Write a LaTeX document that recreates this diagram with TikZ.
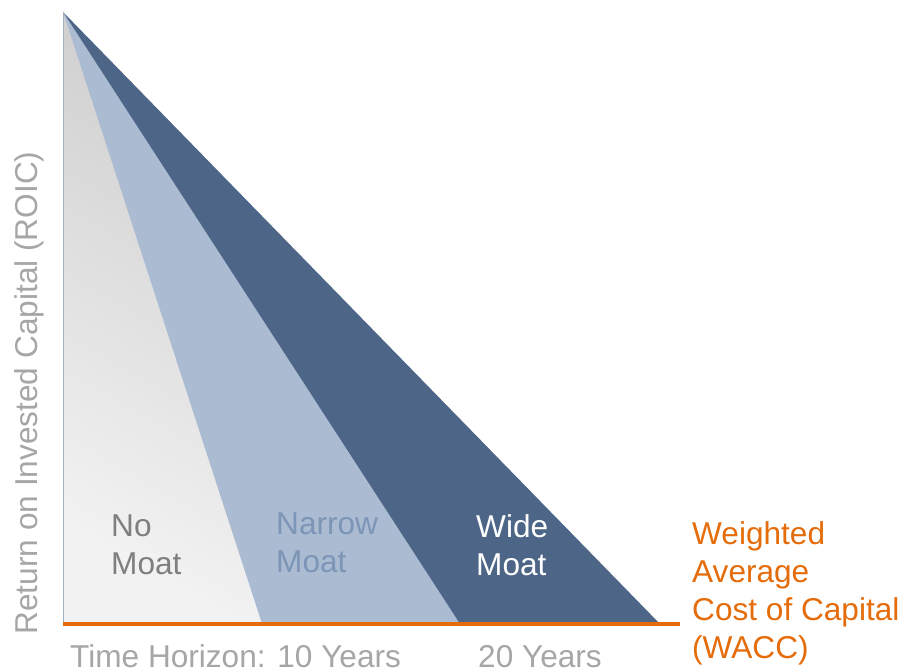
\documentclass[tikz,border=0pt]{standalone}
\usepackage{fontspec}
\setmainfont{Liberation Sans}
\usepackage{tikz}
\usetikzlibrary{positioning}
\definecolor{wideblue}{HTML}{4D6587}
\definecolor{narrowblue}{HTML}{AABBD2}
\definecolor{narrowtext}{HTML}{7D95B6}
\definecolor{moatgray}{HTML}{7F7F7F}
\definecolor{axisgray}{HTML}{A6A6A6}
\definecolor{waccorange}{HTML}{E46C0A}
\tikzset{
		label text/.style={inner sep=0pt, anchor=north west, align=left,
			font=\fontsize{31.6}{38}\selectfont},
		axis text/.style={inner sep=0pt, text=axisgray,
			font=\fontsize{31.6}{38}\selectfont},
		moat area/.style={draw=none}
	}

\begin{document}
\begin{tikzpicture}[x=1pt,y=-1pt]
				\useasboundingbox (0,0) rectangle (905,671);
				\coordinate (apex)   at (63,12);
				\coordinate (origin) at (63,624);
				\coordinate (nobase) at (262,624);
				\coordinate (narrowbase) at (460,624);
				\coordinate (widebase)   at (660,624);
				\coordinate (waccend)    at (680,624);

				% moat triangles
				\fill[moat area, wideblue]   (apex) -- (origin) -- (widebase) -- cycle;
				\fill[moat area, narrowblue] (apex) -- (origin) -- (narrowbase) -- cycle;
				\shade[moat area, top color=black!19, bottom color=black!5, shading angle=-30]
					(apex) -- (origin) -- (nobase) -- cycle;
				\draw[color=narrowblue!80!gray, line width=1pt] (apex) -- (origin);
				\draw[waccorange, line width=4.5pt] (origin) -- (waccend);

				\node[label text, text=moatgray]   (nomoat)     at (111,515) {No\\Moat};
				\node[label text, text=narrowtext] (narrowmoat) at (276,513) {Narrow\\Moat};
				\node[label text, text=white]      (widemoat)   at (476,514) {Wide\\Moat};
				\node[label text, text=waccorange] (wacc)       at (692,521) {Weighted\\Average\\Cost of Capital\\(WACC)};

				\node[axis text, anchor=base west, text depth=0pt] (horizon) at (70,667) {Time Horizon: 10 Years};
				\node[axis text, anchor=base west, text depth=0pt] (twenty)  at (478,667) {20 Years};
				\node[axis text, rotate=90] (roic) at (29,393) {Return on Invested Capital (ROIC)};
			\end{tikzpicture}
\end{document}
